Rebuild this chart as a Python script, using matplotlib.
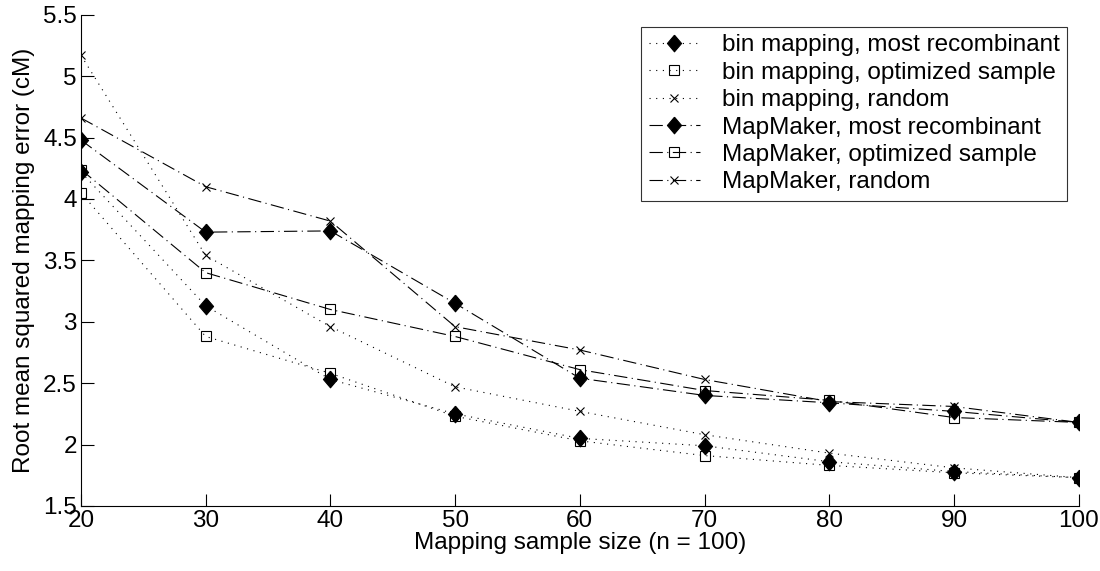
import numpy as np
import matplotlib.pyplot as plt

plt.rcParams['font.family'] = ['Liberation Sans', 'DejaVu Sans']

sample_sizes = [20, 30, 40, 50, 60, 70, 80, 90, 100]

bin_most_recomb = [4.22, 3.13, 2.53, 2.25, 2.05, 1.99, 1.86, 1.78, 1.73]
bin_optimized = [4.05, 2.88, 2.58, 2.23, 2.03, 1.91, 1.83, 1.77, 1.73]
bin_random = [5.17, 3.54, 2.96, 2.47, 2.27, 2.08, 1.93, 1.81, 1.73]
mm_most_recomb = [4.48, 3.73, 3.74, 3.15, 2.54, 2.40, 2.34, 2.27, 2.18]
mm_optimized = [4.24, 3.40, 3.10, 2.88, 2.61, 2.44, 2.36, 2.22, 2.18]
mm_random = [4.66, 4.10, 3.82, 2.96, 2.77, 2.53, 2.35, 2.31, 2.18]

labels = [
    "bin mapping, most recombinant",
    "bin mapping, optimized sample",
    "bin mapping, random",
    "MapMaker, most recombinant",
    "MapMaker, optimized sample",
    "MapMaker, random",
]

fig = plt.figure(figsize=(11, 5.71), dpi=100)
ax = fig.add_axes([0.0736, 0.114, 0.907, 0.86])

# diamond a bit taller than wide, like the MATLAB one
diamond = [(0, 1), (0.85, 0), (0, -1), (-0.85, 0), (0, 1)]
dot = (0, (1, 5))
dashdot = (0, (12, 4, 1, 4))
series = [
    (bin_most_recomb, diamond, dot, 12, 'k'),
    (bin_optimized, 's', dot, 7, 'none'),
    (bin_random, 'x', dot, 6, 'k'),
    (mm_most_recomb, diamond, dashdot, 12, 'k'),
    (mm_optimized, 's', dashdot, 7, 'none'),
    (mm_random, 'x', dashdot, 6, 'k'),
]
for (vals, mk, ls, ms, fc), lab in zip(series, labels):
    ax.plot(sample_sizes, vals, color='k', linestyle=ls, linewidth=0.8,
            marker=mk, markersize=ms, markerfacecolor=fc,
            markeredgecolor='k', markeredgewidth=0.8, label=lab)

ax.set_xlim(20, 100)
ax.set_ylim(1.5, 5.5)
ax.set_xticks(sample_sizes)
ax.set_yticks(np.arange(1.5, 5.51, 0.5))
ax.set_yticklabels(['1.5', '2', '2.5', '3', '3.5', '4', '4.5', '5', '5.5'])
ax.spines['top'].set_visible(False)
ax.spines['right'].set_visible(False)
ax.spines['left'].set_linewidth(0.8)
ax.spines['bottom'].set_linewidth(0.8)
ax.tick_params(direction='in', length=9, width=0.8, labelsize=17.5, pad=3)
ax.set_xlabel("Mapping sample size (n = 100)", fontsize=17.5, labelpad=0)
ax.set_ylabel("Root mean squared mapping error (cM)", fontsize=17.5, labelpad=6)

leg = ax.legend(loc='upper right', fontsize=17.5, frameon=True, fancybox=False,
                edgecolor='k', borderpad=0.3, labelspacing=0.22,
                handlelength=2.1, handletextpad=0.9, borderaxespad=0,
                bbox_to_anchor=(0.988, 0.975))
leg.get_frame().set_linewidth(0.8)

fig.savefig("out.png", dpi=100)
